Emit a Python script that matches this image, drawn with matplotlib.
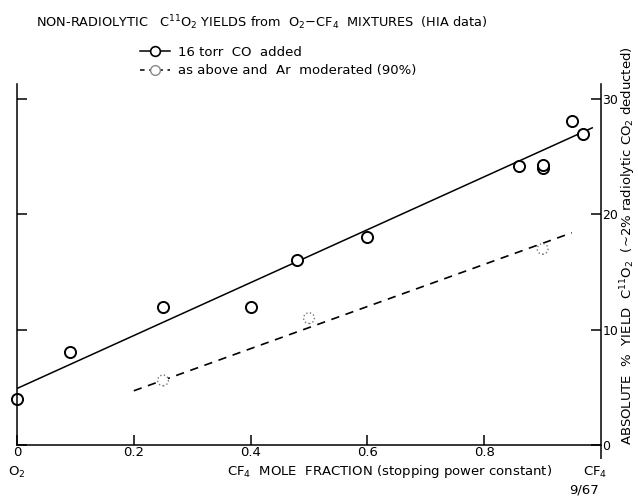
import matplotlib
matplotlib.use("Agg")
import matplotlib.pyplot as plt
from matplotlib.lines import Line2D

# ---- data ----
co_x = [0.0, 0.09, 0.25, 0.40, 0.48, 0.60, 0.86, 0.90, 0.90, 0.95, 0.97]
co_y = [4.0, 8.1, 12.0, 12.0, 16.0, 18.0, 24.2, 24.0, 24.3, 28.1, 27.0]
co_fit_x = [0.0, 0.985]
co_fit_y = [4.9, 27.5]

ar_x = [0.25, 0.50, 0.90]
ar_y = [5.6, 11.0, 17.0]
ar_fit_x = [0.20, 0.95]
ar_fit_y = [4.7, 18.4]

xticks = [0.0, 0.2, 0.4, 0.6, 0.8]
xtick_labels = ["0", "0.2", "0.4", "0.6", "0.8"]
yticks = [0, 10, 20, 30]
ytick_labels = ["0", "10", "20", "30"]

W, H = 638, 497
fig = plt.figure(figsize=(W / 100, H / 100), dpi=100)
ax = fig.add_axes([17 / W, 1 - 445 / H, (601 - 17) / W, (445 - 84) / H])
ax.set_xlim(0, 1)
ax.set_ylim(0, 31.3)

ax.spines["top"].set_visible(False)
for s in ("left", "right", "bottom"):
    ax.spines[s].set_linewidth(1.1)

# fit lines
ax.plot(co_fit_x, co_fit_y, color="black", lw=1.1)
ax.plot(ar_fit_x, ar_fit_y, color="black", lw=1.2, ls=(0, (5, 4)))

# points
ax.plot(co_x, co_y, ls="none", marker="o", ms=8, mfc="white", mec="black", mew=1.4, clip_on=False)
ax.scatter(ar_x, ar_y, s=60, facecolors="white", edgecolors="#777777", linewidths=1.0,
           linestyles=":", zorder=3)

# ticks
ax.set_xticks(xticks)
ax.set_xticklabels(xtick_labels, fontsize=9.5)
ax.set_xticks([1.0], minor=True)
ax.tick_params(axis="x", which="major", direction="in", length=7, width=1.1, pad=1)
ax.tick_params(axis="x", which="minor", direction="out", length=10, width=1.1)
ax.set_yticks(yticks)
ax.set_yticklabels(ytick_labels, fontsize=9)
ax.tick_params(axis="y", direction="in", length=7, width=1.1, left=True, right=True,
               labelleft=False, labelright=True, pad=1)

# legend
handles = [
    Line2D([], [], color="black", lw=1.1, marker="o", ms=7, mfc="white", mec="black", mew=1.2),
    Line2D([], [], color="black", lw=1.1, ls=(0, (3, 3)), marker="o", ms=7, mfc="white",
           mec="#888888", mew=1.0),
]
labels = ["16 torr  CO  added", "as above and  Ar  moderated (90%)"]
fig.legend(handles, labels, loc="center left", bbox_to_anchor=(140 / W, 1 - 61.5 / H),
           frameon=False, fontsize=9.5, handlelength=2.3, handletextpad=0.6,
           labelspacing=0.45, borderpad=0, borderaxespad=0)

# texts
fig.text(262 / W, 1 - 23 / H,
         r"NON-RADIOLYTIC   C$^{11}$O$_2$ YIELDS from  O$_2$$-$CF$_4$  MIXTURES  (HIA data)",
         ha="center", va="center", fontsize=9.3)
fig.text(628 / W, 1 - 246 / H,
         r"ABSOLUTE  %  YIELD  C$^{11}$O$_2$  (~2% radiolytic CO$_2$ deducted)",
         rotation=90, ha="center", va="center", fontsize=9.5)
fig.text(17 / W, 1 - 472 / H, r"O$_2$", ha="center", va="center", fontsize=9.5)
fig.text(595 / W, 1 - 472 / H, r"CF$_4$", ha="center", va="center", fontsize=9.5)
fig.text(390 / W, 1 - 471 / H, r"CF$_4$  MOLE  FRACTION (stopping power constant)",
         ha="center", va="center", fontsize=9.5)
fig.text(584 / W, 1 - 490 / H, "9/67", ha="center", va="center", fontsize=9.5)

fig.savefig("out.png", dpi=100)
